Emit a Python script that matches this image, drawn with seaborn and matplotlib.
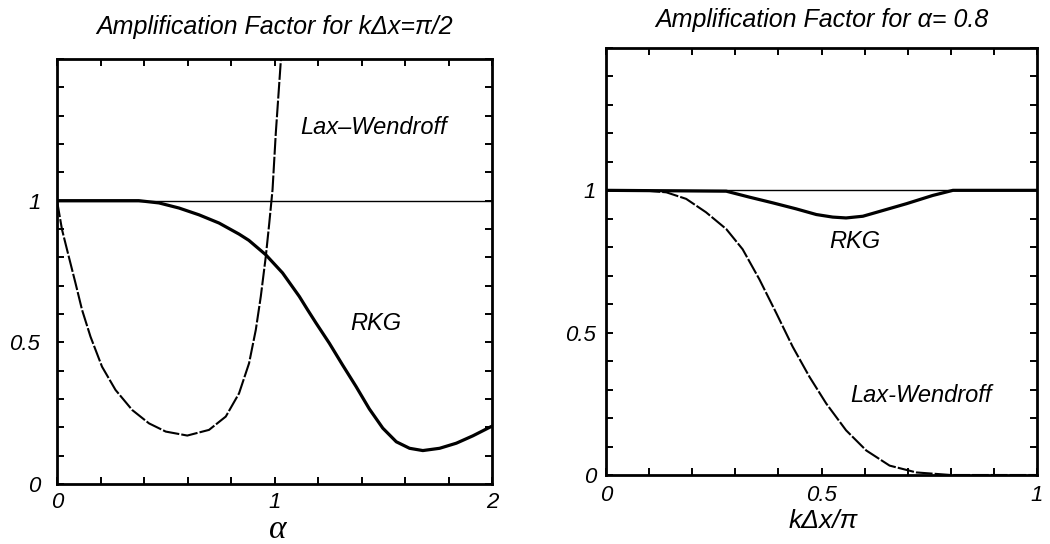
import matplotlib
matplotlib.use("Agg")
import matplotlib.pyplot as plt
from matplotlib.ticker import MultipleLocator, FixedLocator, FixedFormatter
import seaborn as sns

# left panel: amplification factor vs alpha, k dx = pi/2
alpha_lw = [0.0, 0.023, 0.054, 0.085, 0.115, 0.154, 0.207, 0.269, 0.346, 0.423, 0.5,
            0.599, 0.699, 0.776, 0.837, 0.883, 0.914, 0.937, 0.96, 0.976, 0.991, 1.006, 1.03]
amp_lw_alpha = [1.0, 0.898, 0.803, 0.709, 0.615, 0.52, 0.414, 0.332, 0.261, 0.214, 0.185,
                0.171, 0.191, 0.238, 0.32, 0.426, 0.544, 0.662, 0.803, 0.921, 1.039, 1.239, 1.504]
alpha_rkg = [0.0, 0.2, 0.376, 0.469, 0.561, 0.653, 0.745, 0.837, 0.882, 0.96, 1.037,
             1.114, 1.152, 1.191, 1.252, 1.313, 1.375, 1.436, 1.498, 1.56, 1.621, 1.682,
             1.759, 1.836, 1.912, 1.989, 2.0]
amp_rkg_alpha = [1.0, 1.0, 1.0, 0.992, 0.974, 0.95, 0.921, 0.882, 0.86, 0.809, 0.745,
                 0.662, 0.615, 0.568, 0.497, 0.42, 0.344, 0.265, 0.197, 0.149, 0.126, 0.118,
                 0.126, 0.144, 0.17, 0.2, 0.204]

# right panel: amplification factor vs k dx / pi, alpha = 0.8
kdx_lw = [0.0, 0.1, 0.14, 0.186, 0.232, 0.279, 0.317, 0.356, 0.395, 0.433, 0.472,
          0.511, 0.557, 0.604, 0.658, 0.72, 0.8, 1.0]
amp_lw_k = [1.0, 0.998, 0.993, 0.97, 0.923, 0.864, 0.793, 0.687, 0.569, 0.451, 0.345,
            0.251, 0.157, 0.086, 0.033, 0.009, 0.0, 0.0]
kdx_rkg = [0.0, 0.279, 0.333, 0.387, 0.441, 0.488, 0.526, 0.557, 0.596, 0.642, 0.697,
           0.758, 0.805, 1.0]
amp_rkg_k = [1.0, 0.997, 0.976, 0.956, 0.935, 0.915, 0.906, 0.903, 0.909, 0.929, 0.953,
             0.982, 1.0, 1.0]

left_xticks = [0, 1, 2]
left_xticklabels = ["0", "1", "2"]
right_xticks = [0, 0.5, 1]
right_xticklabels = ["0", "0.5", "1"]
yticks = [0, 0.5, 1]
yticklabels = ["0", "0.5", "1"]

sns.set_style("ticks")
plt.rcParams["font.family"] = ["Liberation Sans", "DejaVu Sans"]
plt.rcParams["font.style"] = "italic"
plt.rcParams["text.color"] = "black"
plt.rcParams["axes.labelcolor"] = "black"
plt.rcParams["xtick.color"] = "black"
plt.rcParams["ytick.color"] = "black"

fig = plt.figure(figsize=(10.5, 5.44), dpi=100)
ax1 = fig.add_axes([57 / 1050, 60 / 544, 435 / 1050, 425 / 544])
ax2 = fig.add_axes([606 / 1050, 69 / 544, 431 / 1050, 427 / 544])

dash = (0, (8, 1))


def style_axes(ax, xticks, xlabels, xminor, ypad, xpad):
    ax.set_ylim(0, 1.5)
    ax.xaxis.set_major_locator(FixedLocator(xticks))
    ax.xaxis.set_major_formatter(FixedFormatter(xlabels))
    ax.xaxis.set_minor_locator(MultipleLocator(xminor))
    ax.yaxis.set_major_locator(FixedLocator(yticks))
    ax.yaxis.set_major_formatter(FixedFormatter(yticklabels))
    ax.yaxis.set_minor_locator(MultipleLocator(0.1))
    ax.tick_params(which="both", direction="in", top=True, right=True,
                   length=5, width=1.4, color="black", labelsize=16, labelcolor="black")
    ax.tick_params(axis="y", pad=ypad)
    ax.tick_params(axis="x", pad=xpad)
    for sp in ax.spines.values():
        sp.set_visible(True)
        sp.set_linewidth(2.0)
        sp.set_color("black")


# left panel
ax1.axhline(1, color="black", lw=1.0)
sns.lineplot(x=alpha_rkg, y=amp_rkg_alpha, ax=ax1, color="black", lw=2.3,
             sort=False, errorbar=None)
sns.lineplot(x=alpha_lw, y=amp_lw_alpha, ax=ax1, color="black", lw=1.5,
             linestyle=dash, sort=False, errorbar=None)
ax1.set_xlim(0, 2)
style_axes(ax1, left_xticks, left_xticklabels, 0.2, 12, 6)
ax1.set_title("Amplification Factor for kΔx=π/2", fontsize=18, pad=18)
ax1.text(1.455, 1.258, "Lax\u2013Wendroff", fontsize=17, ha="center", va="center")
ax1.text(1.464, 0.565, "RKG", fontsize=17, ha="center", va="center")
ax1.set_xlabel("α", fontsize=24, family=["Liberation Serif", "DejaVu Serif"])
ax1.xaxis.set_label_coords(0.508, -0.108)
ax1.xaxis.label.set_va("center")
ax1.set_ylabel("")

# right panel
ax2.axhline(1, color="black", lw=1.0)
sns.lineplot(x=kdx_rkg, y=amp_rkg_k, ax=ax2, color="black", lw=2.3,
             sort=False, errorbar=None)
sns.lineplot(x=kdx_lw, y=amp_lw_k, ax=ax2, color="black", lw=1.5,
             linestyle=dash, sort=False, errorbar=None)
ax2.set_xlim(0, 1)
style_axes(ax2, right_xticks, right_xticklabels, 0.1, 7, 7)
ax2.set_title("Amplification Factor for α= 0.8", fontsize=18, pad=15)
ax2.text(0.577, 0.819, "RKG", fontsize=17, ha="center", va="center")
ax2.text(0.73, 0.28, "Lax-Wendroff", fontsize=17, ha="center", va="center")
ax2.set_xlabel("kΔx/π", fontsize=19)
ax2.xaxis.set_label_coords(0.503, -0.107)
ax2.xaxis.label.set_va("center")
ax2.set_ylabel("")

fig.savefig("out.png", dpi=100)
